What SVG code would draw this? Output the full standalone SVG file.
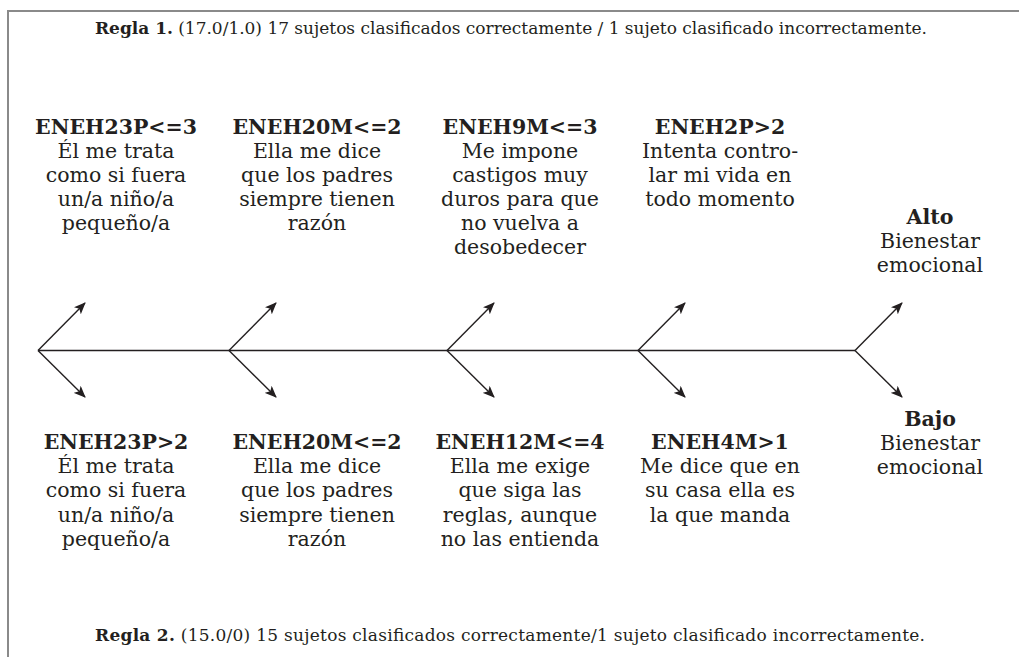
<svg xmlns="http://www.w3.org/2000/svg" width="1019" height="657" viewBox="0 0 1019 657">
<style>
text{font-family:"DejaVu Serif","Liberation Serif",serif;fill:#231f20;text-anchor:middle}
.n{font-size:20.5px}
.b{font-weight:bold}
.t{font-size:17px;text-anchor:start}
.ln{stroke:#231f20;stroke-width:1.4;fill:none}
.ar{stroke:#231f20;stroke-width:1.4;fill:none;marker-end:url(#ah)}
</style>
<defs>
<marker id="ah" viewBox="0 0 12 10" refX="11" refY="5" markerWidth="12" markerHeight="10" markerUnits="userSpaceOnUse" orient="auto">
<path d="M0,0 L12,5 L0,10 L3,5 Z" fill="#231f20"/>
</marker>
</defs>
<rect width="1019" height="657" fill="#fff"/>
<path d="M8,657 V11 H1019" fill="none" stroke="#8a8a8a" stroke-width="2"/>
<g id="title1"><text class="t" x="95" y="34" textLength="832" lengthAdjust="spacing"><tspan class="b">Regla 1.</tspan> (17.0/1.0) 17 sujetos clasificados correctamente / 1 sujeto clasificado incorrectamente.</text></g>
<g id="title2"><text class="t" x="95" y="641" textLength="830" lengthAdjust="spacing"><tspan class="b">Regla 2.</tspan> (15.0/0) 15 sujetos clasificados correctamente/1 sujeto clasificado incorrectamente.</text></g>
<g id="connectors">
<path class="ln" d="M38,350.5 H855"/>
<path class="ar" d="M38,350.5 L85,303"/><path class="ar" d="M38,350.5 L85,397"/>
<path class="ar" d="M229,350.5 L276,303"/><path class="ar" d="M229,350.5 L276,397"/>
<path class="ar" d="M447,350.5 L494,303"/><path class="ar" d="M447,350.5 L494,397"/>
<path class="ar" d="M638,350.5 L685,303"/><path class="ar" d="M638,350.5 L685,397"/>
<path class="ar" d="M855,350.5 L902,303"/><path class="ar" d="M855,350.5 L902,397"/>
</g>
<g id="n1"><text x="116" y="134" class="n b">ENEH23P&lt;=3</text><text class="n" x="116" y="158">Él me trata</text><text class="n" x="116" y="182">como si fuera</text><text class="n" x="116" y="206">un/a niño/a</text><text class="n" x="116" y="230">pequeño/a</text></g>
<g id="n2"><text x="317" y="134" class="n b">ENEH20M&lt;=2</text><text class="n" x="317" y="158">Ella me dice</text><text class="n" x="317" y="182">que los padres</text><text class="n" x="317" y="206">siempre tienen</text><text class="n" x="317" y="230">razón</text></g>
<g id="n3"><text x="520" y="134" class="n b">ENEH9M&lt;=3</text><text class="n" x="520" y="158">Me impone</text><text class="n" x="520" y="182">castigos muy</text><text class="n" x="520" y="206">duros para que</text><text class="n" x="520" y="230">no vuelva a</text><text class="n" x="520" y="254">desobedecer</text></g>
<g id="n4"><text x="720" y="134" class="n b">ENEH2P&gt;2</text><text class="n" x="720" y="158">Intenta contro-</text><text class="n" x="720" y="182">lar mi vida en</text><text class="n" x="720" y="206">todo momento</text></g>
<g id="alto"><text x="930" y="224" class="n b">Alto</text><text class="n" x="930" y="248">Bienestar</text><text class="n" x="930" y="272">emocional</text></g>
<g id="m1"><text x="116" y="449" class="n b">ENEH23P&gt;2</text><text class="n" x="116" y="473">Él me trata</text><text class="n" x="116" y="497">como si fuera</text><text class="n" x="116" y="522">un/a niño/a</text><text class="n" x="116" y="546">pequeño/a</text></g>
<g id="m2"><text x="317" y="449" class="n b">ENEH20M&lt;=2</text><text class="n" x="317" y="473">Ella me dice</text><text class="n" x="317" y="497">que los padres</text><text class="n" x="317" y="522">siempre tienen</text><text class="n" x="317" y="546">razón</text></g>
<g id="m3"><text x="520" y="449" class="n b">ENEH12M&lt;=4</text><text class="n" x="520" y="473">Ella me exige</text><text class="n" x="520" y="497">que siga las</text><text class="n" x="520" y="522">reglas, aunque</text><text class="n" x="520" y="546">no las entienda</text></g>
<g id="m4"><text x="720" y="449" class="n b">ENEH4M&gt;1</text><text class="n" x="720" y="473">Me dice que en</text><text class="n" x="720" y="497">su casa ella es</text><text class="n" x="720" y="522">la que manda</text></g>
<g id="bajo"><text x="930" y="426" class="n b">Bajo</text><text class="n" x="930" y="450">Bienestar</text><text class="n" x="930" y="474">emocional</text></g>
</svg>
